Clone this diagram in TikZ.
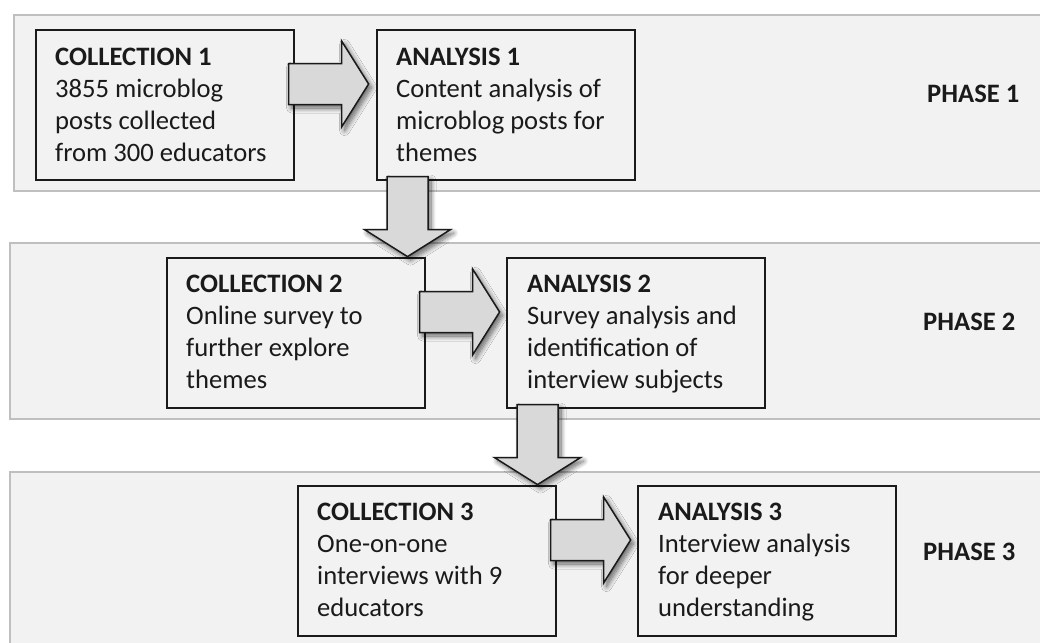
\documentclass[tikz,border=0pt]{standalone}
\usepackage{fontspec}
\setmainfont{Carlito}
\usetikzlibrary{calc,shadows,shadows.blur}
\definecolor{bandfill}{HTML}{F2F2F2}
\definecolor{bandline}{HTML}{BFBFBF}
\definecolor{boxline}{HTML}{1A1A1A}
\definecolor{arrowfill}{HTML}{D9D9D9}
\definecolor{txt}{HTML}{1A1A1A}
\tikzset{
 band/.style={fill=bandfill, draw=bandline, line width=1.5pt},
 stepbox/.style={draw=boxline, fill=bandfill, line width=1.6pt, minimum width=258pt, minimum height=150pt, inner sep=0pt, anchor=north west},
 boxtext/.style={anchor=north west, inner sep=0pt, align=left, text=txt, font=\fontsize{26.6}{32}\selectfont},
 phase/.style={anchor=base west, inner sep=0pt, text=txt, font=\fontsize{26.6}{32}\selectfont\bfseries},
 blockarrow/.style={draw=boxline, fill=arrowfill, line width=1.5pt, line join=miter,
   blur shadow={shadow xshift=3pt, shadow yshift=-3.5pt, shadow blur steps=10, shadow blur radius=5pt, shadow opacity=60}},
}
\begin{document}
\begin{tikzpicture}[x=1pt,y=-1pt]
\useasboundingbox (0,0) rectangle (1040,642);
% phase bands
\path[band] (14,15) rectangle (1046,191);
\path[band] (10,243) rectangle (1046,419);
\path[band] (10,472) rectangle (1046,650);
% boxes
\node[stepbox] (c1) at (35,29) {};
\node[stepbox] (a1) at (376,29) {};
\node[stepbox] (c2) at (166,257) {};
\node[stepbox] (a2) at (506,257) {};
\node[stepbox] (c3) at (297,485) {};
\node[stepbox] (a3) at (637,485) {};
% texts
\node[boxtext] (c1t) at ($(c1.north west)+(20,14)$) {\rule{0pt}{22pt}\textbf{COLLECTION 1}\\3855 microblog\\posts collected\\from 300 educators};
\node[boxtext] (a1t) at ($(a1.north west)+(20,14)$) {\rule{0pt}{22pt}\textbf{ANALYSIS 1}\\Content analysis of\\microblog posts for\\themes};
\node[boxtext] (c2t) at ($(c2.north west)+(20,13)$) {\rule{0pt}{22pt}\textbf{COLLECTION 2}\\Online survey to\\further explore\\themes};
\node[boxtext] (a2t) at ($(a2.north west)+(21,13)$) {\rule{0pt}{22pt}\textbf{ANALYSIS 2}\\Survey analysis and\\identification of\\interview subjects};
\node[boxtext] (c3t) at ($(c3.north west)+(20,13)$) {\rule{0pt}{22pt}\textbf{COLLECTION 3}\\One-on-one\\interviews with 9\\educators};
\node[boxtext] (a3t) at ($(a3.north west)+(21,13)$) {\rule{0pt}{22pt}\textbf{ANALYSIS 3}\\Interview analysis\\for deeper\\understanding};
% phase labels
\node[phase] (p1) at (927,102) {PHASE 1};
\node[phase] (p2) at (923,330) {PHASE 2};
\node[phase] (p3) at (923,560) {PHASE 3};
% right block arrows
\foreach \f/\t in {c1/a1, c2/a2, c3/a3}{
  \draw[blockarrow] let \p1=($(\f.north east)+(-6,55)$) in
    (\x1,\y1+20.5pt) -- (\x1+53pt,\y1+20.5pt) -- (\x1+53pt,\y1+43pt) -- (\x1+80pt,\y1)
    -- (\x1+53pt,\y1-43pt) -- (\x1+53pt,\y1-20.5pt) -- (\x1,\y1-20.5pt) -- cycle;
}
% down block arrows
\foreach \f/\t in {a1/c2, a2/c3}{
  \draw[blockarrow] let \p1=($(\f.south west)+(31.5,-4)$) in
    (\x1-20.5pt,\y1) -- (\x1+20.5pt,\y1) -- (\x1+20.5pt,\y1-53pt) -- (\x1+43pt,\y1-53pt)
    -- (\x1,\y1-80pt) -- (\x1-43pt,\y1-53pt) -- (\x1-20.5pt,\y1-53pt) -- cycle;
}
\end{tikzpicture}
\end{document}
